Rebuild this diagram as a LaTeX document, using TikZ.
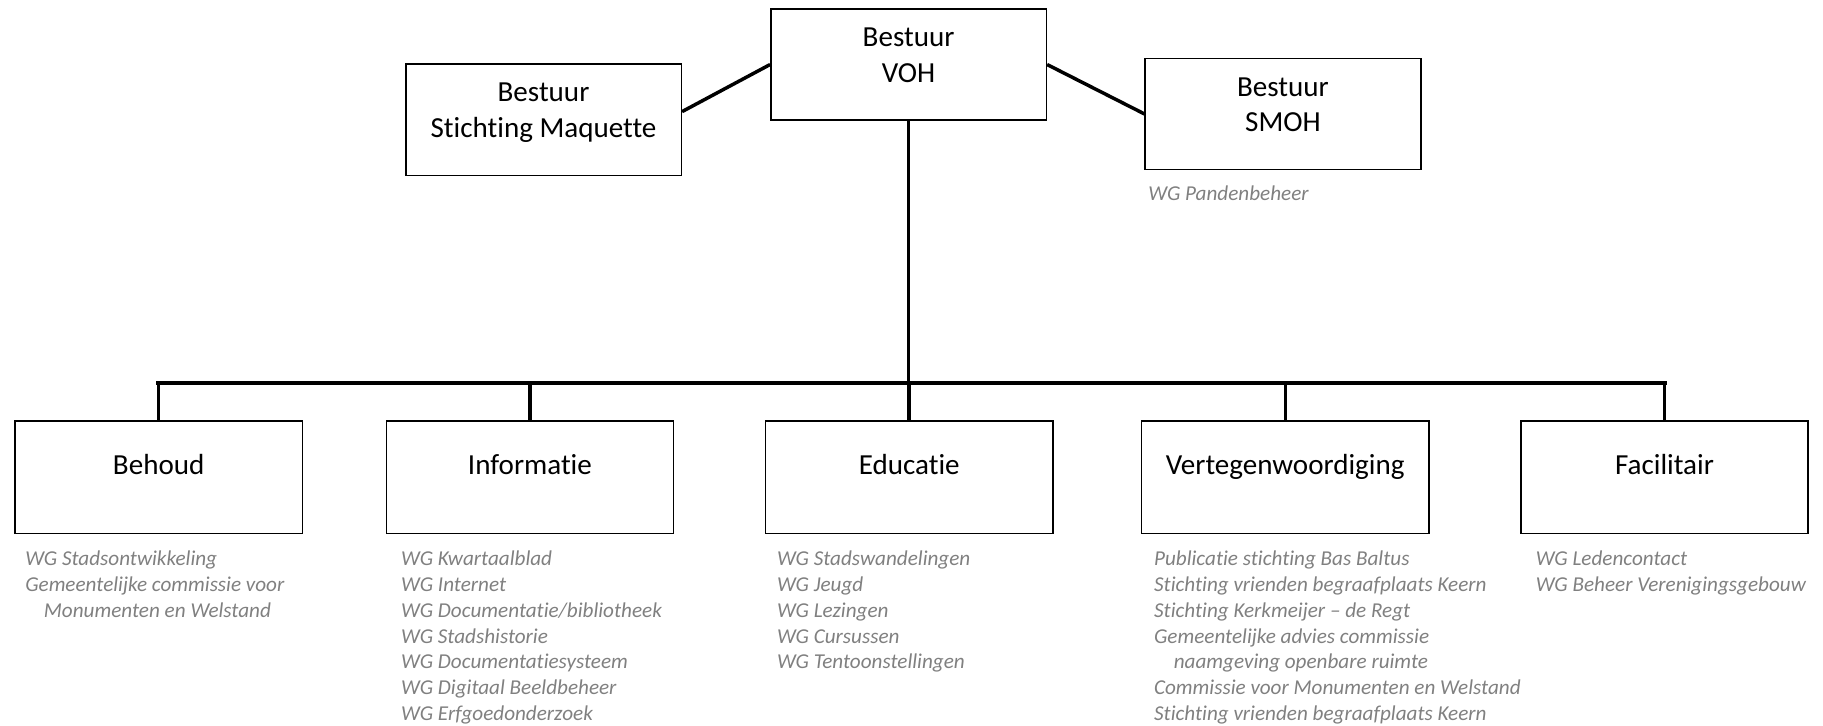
\documentclass[tikz,border=0pt]{standalone}
\usepackage{fontspec}
\setmainfont{Carlito}[Ligatures={TeX,NoCommon}]
\usepackage{xcolor}
\usepackage{tikz}
\usetikzlibrary{positioning}
\definecolor{wggray}{RGB}{128,128,128}

\begin{document}
\begin{tikzpicture}[x=0.5pt, y=-0.5pt, line join=miter,
    bestuur/.style={draw, line width=0.65pt, minimum width=118.5pt, minimum height=47.75pt,
        align=center, text depth=8pt, font=\fontsize{12.5}{15.3}\selectfont},
    unit/.style={draw, line width=0.65pt, minimum width=123.5pt, minimum height=48.5pt,
        text height=8pt, text depth=10pt, font=\fontsize{12.5}{15.3}\selectfont},
    wglist/.style={inner sep=0pt, align=left, text=wggray,
        font=\fontsize{9.1}{11.08}\selectfont\itshape},
    lijn/.style={line width=1.5pt},
    bus/.style={line width=2pt, line cap=rect},
    tak/.style={line width=1.4pt}]
        \useasboundingbox (0,0) rectangle (1568,623.6);

        % besturen
        \node [bestuur] (voh) at (781.5,55.5) {Bestuur\\VOH};
        \node [bestuur] (maquette) at (467.5,103) {Bestuur\\Stichting Maquette};
        \node [bestuur] (smoh) at (1103.5,98) {Bestuur\\SMOH};
        \node [wglist, below right=6.5pt and 1.5pt of smoh.south west] (smohwg) {WG Pandenbeheer};

        \draw [lijn] ([yshift=3.5pt]maquette.east) -- (voh.west);
        \draw [lijn] (voh.east) -- (smoh.west);

        % afdelingen
        \node [unit] (behoud) at (136.5,410.5) {Behoud};
        \node [unit, right=35.5pt of behoud] (informatie) {Informatie};
        \node [unit, right=39pt of informatie] (educatie) {Educatie};
        \node [unit, right=37.5pt of educatie] (vertegenw) {Vertegenwoordiging};
        \node [unit, right=39pt of vertegenw] (facilitair) {Facilitair};

        \draw [lijn] (voh.south) -- (voh.south |- educatie.north);
        \draw [bus] ([yshift=16pt]behoud.north) -- ([yshift=16pt]facilitair.north);
        \foreach \n in {behoud,informatie,educatie,vertegenw,facilitair}
            \draw [tak] (\n.north) -- ([yshift=16pt]\n.north);

        % werkgroepen
        \node [wglist, below right=7pt and 4.5pt of behoud.south west] (behoudwg)
            {WG Stadsontwikkeling\\Gemeentelijke commissie voor\\\hspace*{8pt}Monumenten en Welstand};
        \node [wglist, below right=7pt and 6.5pt of informatie.south west] (informatiewg)
            {WG Kwartaalblad\\WG Internet\\WG Documentatie/bibliotheek\\WG Stadshistorie\\WG Documentatiesysteem\\WG Digitaal Beeldbeheer\\WG Erfgoedonderzoek};
        \node [wglist, below right=7pt and 5pt of educatie.south west] (educatiewg)
            {WG Stadswandelingen\\WG Jeugd\\WG Lezingen\\WG Cursussen\\WG Tentoonstellingen};
        \node [wglist, below right=7pt and 5.5pt of vertegenw.south west] (vertegenwwg)
            {Publicatie stichting Bas Baltus\\Stichting vrienden begraafplaats Keern\\Stichting Kerkmeijer – de Regt\\Gemeentelijke advies commissie\\\hspace*{8.5pt}naamgeving openbare ruimte\\Commissie voor Monumenten en Welstand\\Stichting vrienden begraafplaats Keern};
        \node [wglist, below right=7pt and 6.5pt of facilitair.south west] (facilitairwg)
            {WG Ledencontact\\WG Beheer Verenigingsgebouw};
   \end{tikzpicture}
\end{document}
